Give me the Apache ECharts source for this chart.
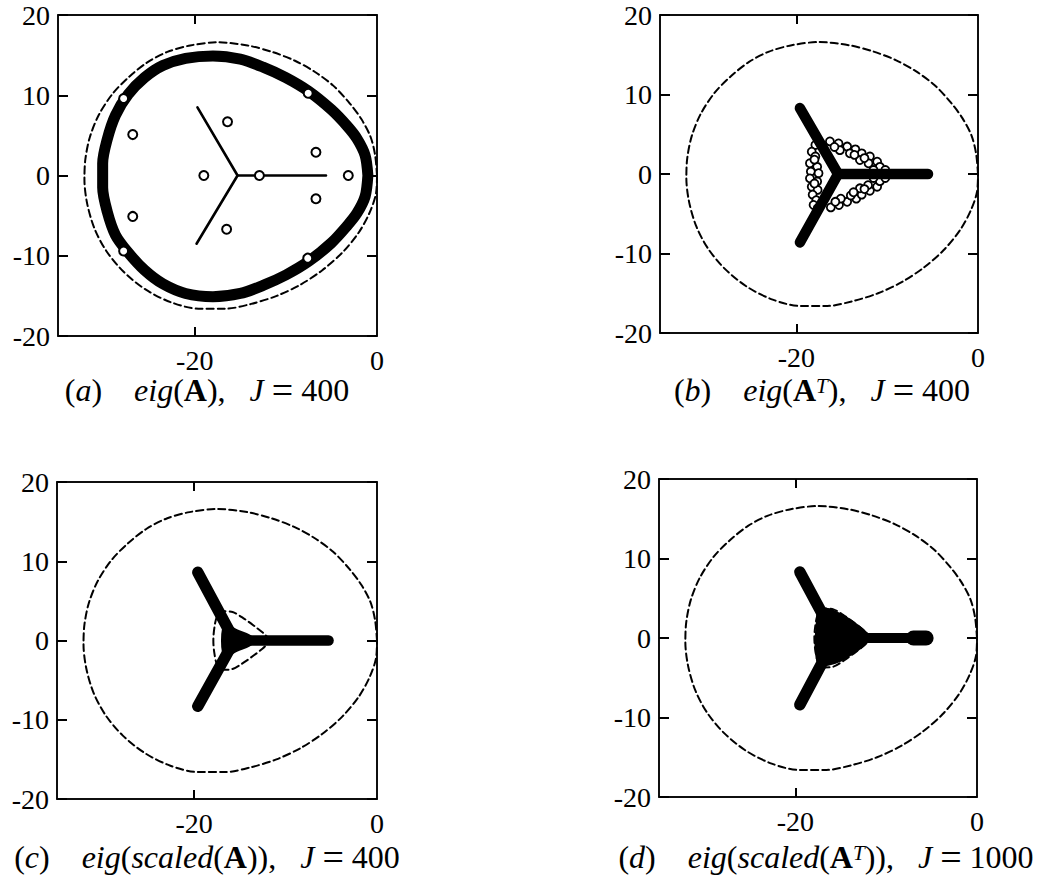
<!DOCTYPE html>
<html>
<head>
<meta charset="utf-8">
<script src="https://cdn.jsdelivr.net/npm/echarts@6/dist/echarts.min.js"></script>
<style>
  html, body { margin: 0; padding: 0; background: #fff; }
  #chart { width: 1055px; height: 890px; }
</style>
</head>
<body>
<div id="chart"></div>
<script>
// ---------------- data (complex plane: [real, imag]) ----------------
const yTickValues = [-20, -10, 0, 10, 20];
const xTickValues = [-20, 0];

// dashed boundary curve, shared by all four panels
const boundary = [
  [0, 0], [-0.2, 2.5], [-0.7, 4.8], [-1.7, 7.0], [-3.0, 9.0], [-4.8, 11.2], [-6.8, 12.9],
  [-9.0, 14.3], [-11.5, 15.4], [-14.2, 16.2], [-17.5, 16.6], [-20.5, 16.2], [-23.0, 15.4],
  [-25.2, 14.1], [-27.2, 12.3], [-29.0, 10.2], [-30.5, 7.6], [-31.5, 4.8], [-32.0, 2.0],
  [-32.1, -0.5], [-31.8, -3.5], [-31.0, -6.6], [-29.7, -9.4], [-27.8, -12.0], [-25.4, -14.2],
  [-22.6, -15.8], [-19.6, -16.6], [-16.6, -16.6], [-13.8, -16.0], [-11.0, -15.0], [-8.4, -13.6],
  [-6.0, -11.8], [-3.8, -9.6], [-2.0, -7.1], [-0.8, -4.6], [-0.1, -2.2], [0, 0]
];

// (a) computed eigenvalues of A: dense closed locus
const locusA = [
  [-1.0, 0], [-1.3, 2.5], [-2.2, 4.6], [-3.3, 6.2], [-5.0, 8.2], [-7.5, 10.5], [-10.0, 12.2],
  [-12.5, 13.5], [-15.0, 14.5], [-18.0, 14.9], [-21.0, 14.6], [-23.5, 13.7], [-25.5, 12.2],
  [-27.3, 10.1], [-28.7, 7.5], [-29.6, 4.5], [-30.1, 1.5], [-30.1, -1.5], [-29.6, -4.5],
  [-28.7, -7.4], [-27.3, -9.6], [-25.5, -11.8], [-23.5, -13.5], [-21.0, -14.7], [-18.0, -15.1],
  [-15.0, -14.7], [-12.5, -13.7], [-10.0, -12.4], [-7.5, -10.7], [-5.0, -8.4], [-3.3, -6.3],
  [-2.2, -4.7], [-1.3, -2.6], [-1.0, 0]
];
// (a) isolated eigenvalues (open circles)
const pointsA = [
  [-7.55, 10.25], [-26.8, 5.1], [-16.4, 6.7], [-6.7, 2.9], [-19.0, 0], [-12.9, 0], [-3.15, 0],
  [-6.7, -2.9], [-26.8, -5.1], [-16.5, -6.7], [-7.6, -10.3], [-27.8, 9.6], [-27.8, -9.4]
];
// (a) thin three-armed spectrum
const starLegsA = [[-19.7, 8.5], [-15.3, 0], [-19.8, -8.5]];
const starTailA = [[-15.3, 0], [-5.6, 0]];

// (b) eigenvalues of A^T
const starLegsB = [[-19.6, 8.3], [-15.4, 0], [-19.6, -8.6]];
const starTailB = [[-15.4, 0], [-5.5, 0]];
const pointsB = [
  [-17.9, 3.65], [-18.3, 2.8], [-17.9, 2.2], [-18.5, 1.35], [-17.7, 0.9], [-18.4, 0.3],
  [-17.55, 0.1], [-18.5, -0.55], [-17.7, -0.95], [-18.3, -1.6], [-17.65, -2.0], [-18.2, -2.6],
  [-17.8, -3.3], [-18.1, -3.9], [-17.65, -4.3], [-18.0, 1.8], [-18.0, -1.2],
  [-16.3, 4.1], [-15.35, 3.85], [-14.4, 3.45], [-13.5, 3.1], [-15.2, 3.0], [-14.1, 2.6],
  [-12.8, 2.6], [-11.9, 2.2], [-13.0, 1.75], [-12.05, 1.35], [-11.1, 1.55], [-10.8, 0.9],
  [-11.5, 0.5], [-10.2, 0.5], [-15.8, 3.4], [-13.6, 2.4], [-12.5, 2.0],
  [-16.2, -4.2], [-15.3, -3.9], [-14.4, -3.5], [-13.4, -3.1], [-15.1, -3.1], [-14.0, -2.7],
  [-12.8, -2.6], [-11.9, -2.1], [-13.0, -1.8], [-12.1, -1.4], [-11.1, -1.6], [-10.8, -0.9],
  [-11.5, -0.5], [-10.2, -0.5], [-15.7, -3.5], [-13.7, -2.3], [-12.5, -1.9]
];

// (c) eigenvalues of scaled A
const starLegsC = [[-19.6, 8.6], [-15.6, 0], [-19.6, -8.3]];
const starTailC = [[-15.6, 0], [-5.3, 0]];
const hubC = [[-16.6, 1.9], [-15.3, 1.2], [-14.0, 0.6], [-13.5, 0], [-14.0, -0.6], [-15.3, -1.2], [-16.6, -1.9], [-16.9, 0]];
// small dashed inner curve
const innerCurve = [
  [-11.6, 0], [-12.5, 1.0], [-13.5, 1.9], [-14.6, 2.8], [-15.8, 3.6], [-16.8, 3.7], [-17.5, 3.0],
  [-17.8, 1.5], [-17.9, 0], [-17.8, -1.5], [-17.5, -3.0], [-16.8, -3.7], [-15.8, -3.6],
  [-14.6, -2.8], [-13.5, -1.9], [-12.5, -1.0], [-11.6, 0]
];

// (d) eigenvalues of scaled A^T, J = 1000
const starLegsD = [[-19.5, 8.3], [-15.6, 0], [-19.5, -8.4]];
const starTailD = [[-15.6, 0], [-6.0, 0]];
const tipD = [[-7.0, 0], [-5.6, 0]];
const clusterD = [
  [-17.4, 3.4], [-16.4, 3.6], [-15.0, 2.9], [-13.6, 1.9], [-12.4, 0.8], [-11.9, 0], [-12.4, -0.8],
  [-13.6, -1.8], [-15.0, -2.8], [-16.4, -3.3], [-17.4, -3.1], [-17.7, -1.5], [-17.7, 0], [-17.6, 1.5]
];

// ---------------- layout ----------------
const FONT = '"Liberation Serif", "Times New Roman", serif';
const TICK_FONT = 28;
const CAP_FONT = 32;
const panels = [
  { left: 58,  top: 15,  width: 319, height: 321 },
  { left: 660, top: 15,  width: 318, height: 318 },
  { left: 57,  top: 482, width: 320, height: 317 },
  { left: 659, top: 479, width: 318, height: 318 }
];

const grids = panels.map(p => ({
  left: p.left, top: p.top, width: p.width, height: p.height,
  show: true, borderColor: '#000', borderWidth: 1.5, backgroundColor: 'transparent'
}));

// each box carries four axes: labelled bottom/left, unlabelled top/right, all with inward ticks
const xAxes = [], yAxes = [];
panels.forEach((p, i) => {
  ['bottom', 'top'].forEach(pos => {
    xAxes.push({
      type: 'value', gridIndex: i, position: pos, min: -35, max: 0, z: 10,
      axisLine: { show: true, onZero: false, lineStyle: { color: '#000', width: 1.5 } },
      splitLine: { show: false },
      axisTick: { show: true, inside: true, length: 9, customValues: [-20],
                  lineStyle: { color: '#000', width: 2 } },
      axisLabel: { show: pos === 'bottom', customValues: xTickValues, margin: 10,
                   color: '#000', fontFamily: FONT, fontSize: TICK_FONT,
                   formatter: v => String(v) }
    });
  });
  ['left', 'right'].forEach(pos => {
    yAxes.push({
      type: 'value', gridIndex: i, position: pos, min: -20, max: 20, interval: 10, z: 10,
      axisLine: { show: true, onZero: false, lineStyle: { color: '#000', width: 1.5 } },
      splitLine: { show: false },
      axisTick: { show: true, inside: true, length: 10,
                  lineStyle: { color: '#000', width: 2 } },
      axisLabel: { show: pos === 'left', margin: 8, color: '#000',
                   fontFamily: FONT, fontSize: TICK_FONT,
                   formatter: v => (yTickValues.indexOf(v) >= 0 ? String(v) : '') }
    });
  });
});

function line(panel, data, width, dashed, smooth, z) {
  return {
    type: 'line', xAxisIndex: 2 * panel, yAxisIndex: 2 * panel, data,
    symbol: 'none', smooth: smooth || false, silent: true, z: z || 2,
    lineStyle: { color: '#000', width, type: dashed ? [7, 4] : 'solid', cap: 'round', join: 'round', opacity: 1 }
  };
}
function circles(panel, data, size, bw) {
  return {
    type: 'scatter', xAxisIndex: 2 * panel, yAxisIndex: 2 * panel, data,
    symbol: 'circle', symbolSize: size, silent: true, z: 4,
    itemStyle: { color: '#fff', borderColor: '#000', borderWidth: bw, opacity: 1 }
  };
}
// filled region of merged eigenvalues
function blob(panel, poly) {
  return {
    type: 'custom', xAxisIndex: 2 * panel, yAxisIndex: 2 * panel, data: [poly[0]], silent: true, z: 3,
    renderItem: (params, api) => ({
      type: 'polygon',
      shape: { points: poly.map(p => api.coord(p)), smooth: 0.3 },
      style: { fill: '#000', stroke: '#000', lineWidth: 3, lineJoin: 'round' }
    })
  };
}

const series = [
  // (a)
  line(0, boundary, 2, true, 0.3),
  line(0, locusA, 11, false, 0.3),
  line(0, starLegsA, 2.6, false),
  line(0, starTailA, 2.6, false),
  circles(0, pointsA, 9, 2),
  // (b)
  line(1, boundary, 2, true, 0.3),
  circles(1, pointsB, 8, 1.8),
  line(1, starLegsB, 10.5, false, false, 5),
  line(1, starTailB, 10.5, false, false, 5),
  // (c)
  line(2, boundary, 2, true, 0.3),
  line(2, innerCurve, 2, true, 0.3),
  line(2, starLegsC, 11.5, false),
  line(2, starTailC, 10.5, false),
  blob(2, hubC),
  // (d)
  line(3, boundary, 2, true, 0.3),
  line(3, innerCurve, 2, true, 0.3),
  blob(3, clusterD),
  line(3, starLegsD, 11.5, false),
  line(3, starTailD, 10, false),
  line(3, tipD, 15, false)
];

// figure captions
const LH = 30;
const rich = {
  n: { fontFamily: FONT, fontSize: CAP_FONT, fill: '#000', lineHeight: LH },
  e: { fontFamily: FONT, fontSize: 38, fill: '#000', lineHeight: LH },
  i: { fontFamily: FONT, fontSize: CAP_FONT, fontStyle: 'italic', fill: '#000', lineHeight: LH },
  b: { fontFamily: FONT, fontSize: CAP_FONT, fontWeight: 'bold', fill: '#000', lineHeight: LH },
  s: { fontFamily: FONT, fontSize: 21, fontStyle: 'italic', fill: '#000', verticalAlign: 'top', lineHeight: 16 }
};
const GAP1 = '    ', GAP2 = '   ';
const captions = [
  { x: 207, y: 390, text: `{n|(}{i|a}{n|)${GAP1}}{i|eig}{n|(}{b|A}{n|),${GAP2}}{i|J}{n| }{e|=}{n| 400}` },
  { x: 822, y: 390, text: `{n|(}{i|b}{n|)${GAP1}}{i|eig}{n|(}{b|A}{s|T}{n|),${GAP2}}{i|J}{n| }{e|=}{n| 400}` },
  { x: 207, y: 857, text: `{n|(}{i|c}{n|)${GAP1}}{i|eig}{n|(}{i|scaled}{n|(}{b|A}{n|)),${GAP2}}{i|J}{n| }{e|=}{n| 400}` },
  { x: 826, y: 857, text: `{n|(}{i|d}{n|)${GAP1}}{i|eig}{n|(}{i|scaled}{n|(}{b|A}{s|T}{n|)),${GAP2}}{i|J}{n| }{e|=}{n| 1000}` }
];

const chart = echarts.init(document.getElementById('chart'), null, { renderer: 'svg' });
chart.setOption({
  backgroundColor: '#fff',
  animation: false,
  grid: grids,
  xAxis: xAxes,
  yAxis: yAxes,
  series,
  graphic: captions.map(c => ({
    type: 'text', x: c.x, y: c.y, silent: true,
    style: { text: c.text, rich, align: 'center', verticalAlign: 'middle',
             fontFamily: FONT, fontSize: CAP_FONT, fill: '#000' }
  }))
});
</script>
</body>
</html>
